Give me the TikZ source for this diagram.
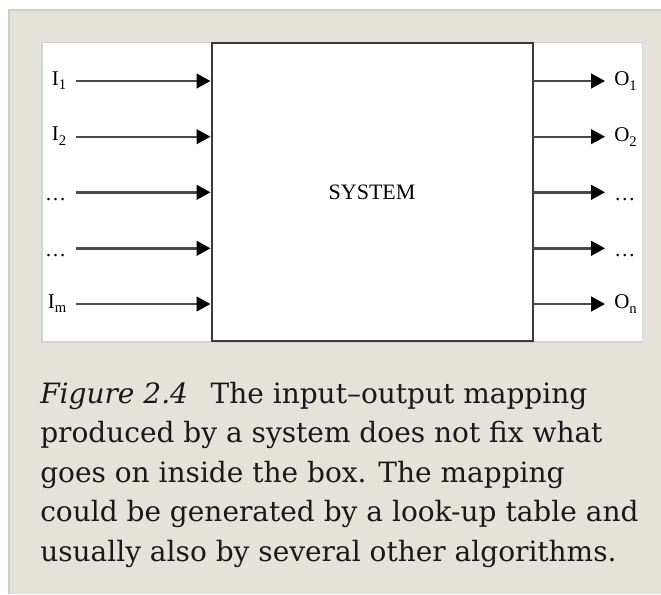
\documentclass[tikz,border=0pt]{standalone}
\usepackage{fontspec}
\setmainfont{Liberation Serif}
\newfontfamily\capfont{DejaVu Serif}
\usetikzlibrary{arrows.meta}
\definecolor{panelbg}{HTML}{E5E3D9}
\definecolor{panelline}{HTML}{CDCDCB}
\definecolor{figline}{HTML}{D4D4D4}
\definecolor{boxline}{HTML}{3A3A3A}
\definecolor{shaft}{HTML}{4A4A4A}
\newcommand\lsub[1]{\raisebox{-3.6pt}{\fontsize{11pt}{11pt}\selectfont #1}}
\begin{document}
\begin{tikzpicture}[x=0.75pt,y=-0.75pt,
  lbl/.style={font=\fontsize{15.75pt}{18pt}\selectfont, inner sep=0pt},
  arr/.style={draw=shaft, line width=1.8pt, -{Triangle[length=10.5pt,width=11pt,color=black]}},
  capline/.style={font=\capfont\fontsize{21pt}{29pt}\selectfont, inner sep=0pt, anchor=base west, text=black!90}]
\useasboundingbox (0,0) rectangle (661,594);
\fill[white] (0,0) rectangle (661,594);
% panel
\fill[panelbg] (9,10) rectangle (661,594);
\draw[panelline, line width=1.5pt] (9,594) -- (9,10) -- (661,10);
% figure area
\filldraw[fill=white, draw=figline, line width=0.9pt] (42,42.5) rectangle (642.5,342);
% system box
\node[draw=boxline, line width=1.5pt, minimum width=240.9pt, minimum height=223.2pt,
      inner sep=0pt, font=\fontsize{16.5pt}{18pt}\selectfont] (sys) at (372.1,192.2) {SYSTEM};
% inputs
\foreach \i/\y/\t/\dy in {1/81/{I\lsub{1}}/4, 2/136.7/{I\lsub{2}}/4, 3/192.3/{…}/8.5, 4/248.3/{…}/8.5, 5/304/{I\lsub{m}}/4}{
  \coordinate (a\i) at (76,\y);
  \node[lbl, anchor=base east] (il\i) at (66.5,\y+\dy) {\t};
  \draw[arr] (a\i) -- (a\i -| sys.west);
}
% outputs
\foreach \i/\y/\t/\dy in {1/81/{O\lsub{1}}/4.7, 2/136.7/{O\lsub{2}}/4.7, 3/192.3/{…}/8.5, 4/248.3/{…}/8.5, 5/304/{O\lsub{n}}/4.7}{
  \coordinate (b\i) at (605,\y);
  \node[lbl, anchor=base west] (ol\i) at (614,\y+\dy) {\t};
  \draw[arr] (b\i -| sys.east) -- (b\i);
}
% caption
\node[capline] (c1) at (40,403) {\textit{Figure 2.4}\hspace{17pt}The input–output mapping};
\node[capline] (c2) at (40,442.5) {produced by a system does not fix what};
\node[capline] (c3) at (40,482) {goes on inside the box. The mapping};
\node[capline] (c4) at (40,521.5) {could be generated by a look-up table and};
\node[capline] (c5) at (40,561) {usually also by several other algorithms.};
\end{tikzpicture}
\end{document}
